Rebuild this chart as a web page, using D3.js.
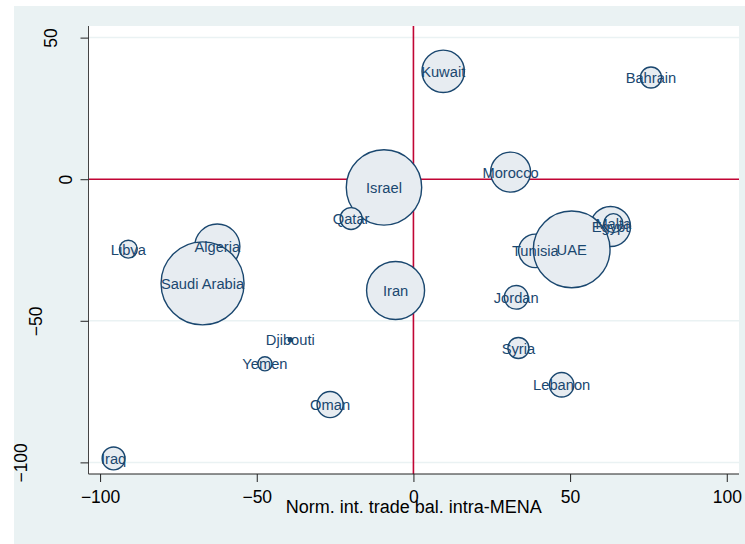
<!DOCTYPE html>
<html>
<head>
<meta charset="utf-8">
<script src="https://cdn.jsdelivr.net/npm/d3@7"></script>
<style>
  body { margin: 0; background: #fff; }
  svg { display: block; font-family: "Liberation Sans", Arial, sans-serif; }
</style>
</head>
<body>
<svg id="visualization" width="745" height="544"></svg>
<script>
// countries, alphabetical (this is also the draw order)
const countries = ["Algeria", "Bahrain", "Djibouti", "Egypt", "Iran", "Iraq", "Israel", "Jordan", "Kuwait", "Lebanon",
    "Libya", "Malta", "Morocco", "Oman", "Qatar", "Saudi Arabia", "Syria", "Tunisia", "UAE", "Yemen"];
const tradeBal = [-62.6, 75.8, -39.3, 62.9, -5.7, -95.7, -9.4, 32.8, 9.5, 47.3,
    -91.0, 63.8, 31.0, -26.6, -19.9, -67.3, 33.5, 38.9, 50.5, -47.4];
const yValues = [-23.8, 35.9, -56.7, -16.7, -39.3, -98.6, -2.9, -41.7, 38.1, -72.6,
    -24.7, -15.5, 2.5, -79.6, -13.9, -36.8, -59.6, -25.3, -24.8, -65.2];
const weights = [51, 11, 0.4, 40, 84, 13, 142, 14, 45, 15,
    8, 9, 40, 17, 12, 172, 11, 28, 147, 5];
const xTicks = [-100, -50, 0, 50, 100];
const yTicks = [-100, -50, 0, 50];
const xTitle = "Norm. int. trade bal. intra-MENA";

const data = countries.map((c, i) => ({ name: c, x: tradeBal[i], y: yValues[i], w: weights[i] }));

const svg = d3.select("#visualization");

// outer graph region
svg.append("rect")
    .attr("x", 14).attr("y", 6)
    .attr("width", 745 - 14).attr("height", 544 - 6)
    .attr("fill", "#eaf2f3");

const plot = { left: 88.5, right: 739, top: 26, bottom: 474 };

svg.append("rect")
    .attr("x", plot.left).attr("y", plot.top)
    .attr("width", plot.right - plot.left).attr("height", plot.bottom - plot.top)
    .attr("fill", "#fff");

const xScale = d3.scaleLinear().domain([-103.7, 103.9]).range([plot.left, plot.right]);
const yScale = d3.scaleLinear().domain([-104.1, 54.1]).range([plot.bottom, plot.top]);
const rScale = d3.scaleSqrt().domain([0, d3.max(weights)]).range([0, 41.5]);

// grid lines
svg.append("g")
    .selectAll("line")
    .data(yTicks.filter(d => d !== 0))
    .join("line")
    .attr("x1", plot.left).attr("x2", plot.right)
    .attr("y1", d => yScale(d)).attr("y2", d => yScale(d))
    .attr("stroke", "#eaf2f3")
    .attr("stroke-width", 1.5);

// reference lines at zero
svg.append("line")
    .attr("x1", plot.left).attr("x2", plot.right)
    .attr("y1", yScale(0)).attr("y2", yScale(0))
    .attr("stroke", "#c10534").attr("stroke-width", 1.6);
svg.append("line")
    .attr("x1", xScale(0)).attr("x2", xScale(0))
    .attr("y1", plot.top).attr("y2", plot.bottom)
    .attr("stroke", "#c10534").attr("stroke-width", 1.6);

// bubbles
svg.append("g")
    .selectAll("circle")
    .data(data)
    .join("circle")
    .attr("cx", d => xScale(d.x))
    .attr("cy", d => yScale(d.y))
    .attr("r", d => Math.max(rScale(d.w), 1.5))
    .attr("fill", d => d.w < 1 ? "#1a476f" : "#e7ecf1")
    .attr("stroke", "#1a476f")
    .attr("stroke-width", 1.4);

// bubble labels
svg.append("g")
    .selectAll("text")
    .data(data)
    .join("text")
    .attr("x", d => xScale(d.x))
    .attr("y", d => yScale(d.y))
    .attr("dy", "0.38em")
    .attr("text-anchor", "middle")
    .attr("font-size", 14.7)
    .attr("fill", "#1a476f")
    .text(d => d.name);

// x axis
const xAxis = svg.append("g")
    .attr("transform", `translate(0, ${plot.bottom})`)
    .call(d3.axisBottom(xScale).tickValues(xTicks).tickSize(8).tickSizeOuter(0).tickFormat(d3.format("d")));
xAxis.select(".domain").attr("stroke", "#222").attr("d", `M${plot.left},0H${plot.right}`);
xAxis.selectAll(".tick line").attr("stroke", "#222");
xAxis.selectAll(".tick text")
    .attr("font-size", 17.5)
    .attr("font-family", "Liberation Sans, Arial, sans-serif")
    .attr("fill", "#000")
    .attr("y", 29)
    .attr("dy", 0);

// y axis
const yAxis = svg.append("g")
    .attr("transform", `translate(${plot.left}, 0)`)
    .call(d3.axisLeft(yScale).tickValues(yTicks).tickSize(8).tickSizeOuter(0).tickFormat(d3.format("d")));
yAxis.select(".domain").attr("stroke", "#444").attr("d", `M0,${plot.top}V${plot.bottom}`);
yAxis.selectAll(".tick line").attr("stroke", "#222");
yAxis.selectAll(".tick text")
    .attr("font-size", 17.5)
    .attr("font-family", "Liberation Sans, Arial, sans-serif")
    .attr("fill", "#000")
    .attr("text-anchor", "middle")
    .attr("x", null).attr("dy", 0)
    .attr("transform", function(d) {
        const n = String(d).length;
        return `translate(${-2 - 15 * n}, 0) rotate(-90)`;
    });

// x axis title
svg.append("text")
    .attr("x", (plot.left + plot.right) / 2)
    .attr("y", 513)
    .attr("text-anchor", "middle")
    .attr("font-size", 18)
    .attr("fill", "#000")
    .text(xTitle);
</script>
</body>
</html>
